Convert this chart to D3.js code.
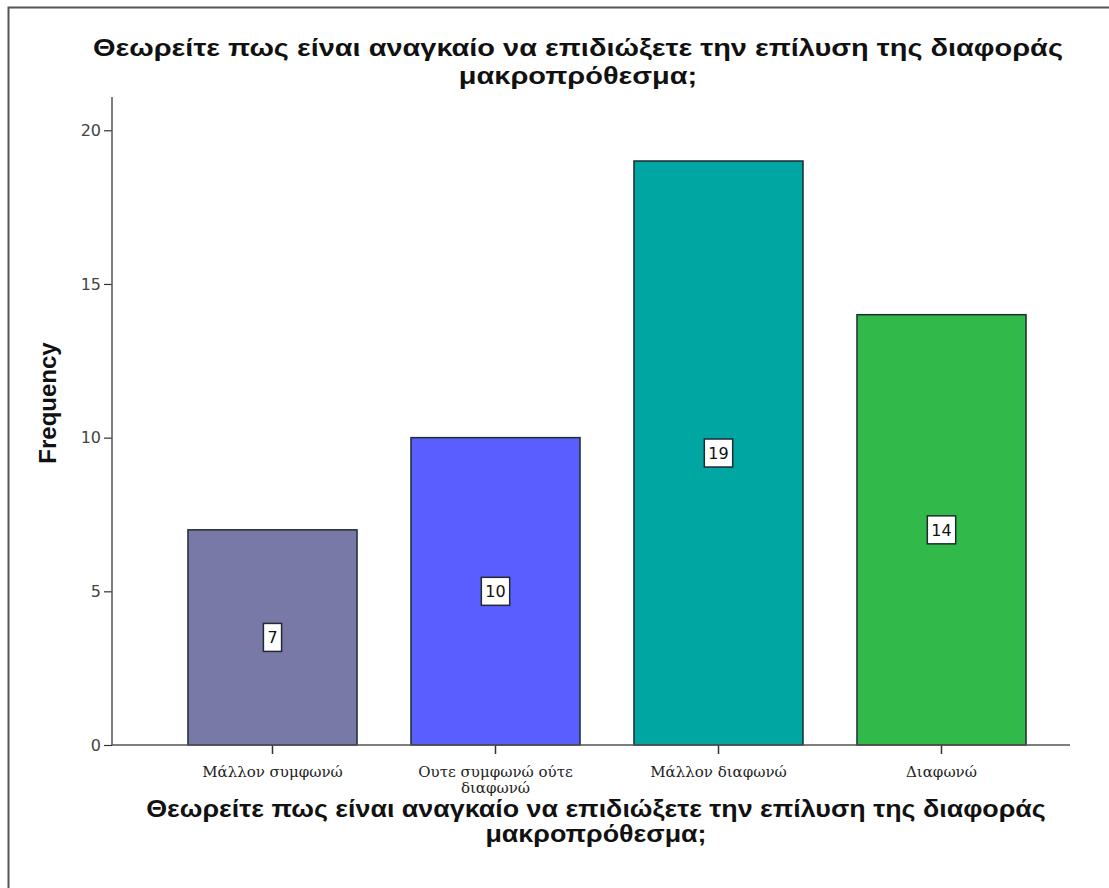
<!DOCTYPE html>
<html>
<head>
<meta charset="utf-8">
<script src="https://cdn.jsdelivr.net/npm/d3@7"></script>
<style>
  html, body { margin: 0; padding: 0; background: #fff; }
  svg { display: block; }
</style>
</head>
<body>
<svg id="chart" width="1109" height="888"></svg>
<script>
const categories = ["Μάλλον συμφωνώ", "Ουτε συμφωνώ ούτε διαφωνώ", "Μάλλον διαφωνώ", "Διαφωνώ"];
const categoryLines = [["Μάλλον συμφωνώ"], ["Ουτε συμφωνώ ούτε", "διαφωνώ"], ["Μάλλον διαφωνώ"], ["Διαφωνώ"]];
const frequencies = [7, 10, 19, 14];
const barColors = ["#7979A8", "#5A5EFE", "#00A6A2", "#31B949"];
const yTicks = [0, 5, 10, 15, 20];
const titleLines = ["Θεωρείτε πως είναι αναγκαίο να επιδιώξετε την επίλυση της διαφοράς", "μακροπρόθεσμα;"];
const xTitleLines = ["Θεωρείτε πως είναι αναγκαίο να επιδιώξετε την επίλυση της διαφοράς", "μακροπρόθεσμα;"];
const yTitle = "Frequency";

const svg = d3.select("#chart");

// outer frame (top & left visible)
svg.append("rect").attr("x", 8.5).attr("y", 7.5).attr("width", 1120).attr("height", 900)
  .attr("fill", "none").attr("stroke", "#555").attr("stroke-width", 2);

const y = d3.scaleLinear().domain([0, 21.05]).range([745, 98]);
const x = d3.scaleBand().domain(categories).range([161, 1053]).paddingInner(0.242).paddingOuter(0.121);

const axisX0 = 112, axisX1 = 1070;

// multi-line bold title, horizontally scaled so line 1 has the target width
function blockTitle(lines, cx, y0, lh, size, targetW) {
  const g = svg.append("g");
  const texts = lines.map((t, i) => g.append("text").attr("x", 0).attr("y", i * lh)
    .attr("text-anchor", "middle").attr("font-family", "Liberation Sans, Arial, sans-serif")
    .attr("font-weight", "bold").attr("font-size", size).attr("fill", "#111").text(t));
  const w = texts[0].node().getComputedTextLength();
  const sx = w > 0 ? targetW / w : 1;
  g.attr("transform", `translate(${cx},${y0}) scale(${sx},1)`);
}

blockTitle(titleLines, 578, 56, 28, 24, 970);

// bars
svg.selectAll("rect.bar").data(frequencies).join("rect").attr("class", "bar")
  .attr("x", (d, i) => x(categories[i]))
  .attr("y", d => y(d))
  .attr("width", x.bandwidth())
  .attr("height", d => y(0) - y(d))
  .attr("fill", (d, i) => barColors[i])
  .attr("stroke", "#1f2a33").attr("stroke-width", 1.5);

// y axis
const yAxis = svg.append("g").attr("transform", `translate(${axisX0},0)`)
  .call(d3.axisLeft(y).tickValues(yTicks).tickSize(8).tickPadding(3).tickFormat(d3.format("d")));
yAxis.select(".domain").remove();
yAxis.selectAll(".tick line").attr("stroke", "#333").attr("stroke-width", 1.2);
yAxis.selectAll(".tick text").attr("font-family", "DejaVu Sans, sans-serif").attr("font-size", 16).attr("fill", "#444");
svg.append("line").attr("x1", axisX0).attr("x2", axisX0).attr("y1", 97).attr("y2", y(0))
  .attr("stroke", "#555").attr("stroke-width", 1.5);

// x axis
const xAxis = svg.append("g").attr("transform", `translate(0,${y(0)})`)
  .call(d3.axisBottom(x).tickSize(9).tickFormat(""));
xAxis.select(".domain").remove();
xAxis.selectAll(".tick line").attr("stroke", "#333").attr("stroke-width", 1.5);
svg.append("line").attr("x1", axisX0).attr("x2", axisX1).attr("y1", y(0)).attr("y2", y(0))
  .attr("stroke", "#555").attr("stroke-width", 1.5);

// x tick labels
categories.forEach((c, i) => {
  categoryLines[i].forEach((l, j) => {
    svg.append("text").attr("x", x(c) + x.bandwidth() / 2).attr("y", 777 + j * 16)
      .attr("text-anchor", "middle").attr("font-family", "DejaVu Serif, serif")
      .attr("font-size", 15).attr("fill", "#222").text(l);
  });
});

// value labels
frequencies.forEach((d, i) => {
  const cx = x(categories[i]) + x.bandwidth() / 2;
  const cy = y(d / 2);
  const g = svg.append("g");
  const txt = g.append("text").attr("x", cx).attr("y", cy + 6).attr("text-anchor", "middle")
    .attr("font-family", "DejaVu Sans, sans-serif").attr("font-size", 16).attr("fill", "#111").text(d);
  const w = txt.node().getComputedTextLength() + 8;
  g.insert("rect", "text").attr("x", cx - w / 2).attr("y", cy - 14).attr("width", w).attr("height", 28)
    .attr("fill", "#fff").attr("stroke", "#1f2a33").attr("stroke-width", 1.5);
});

// y title
svg.append("text").attr("transform", "translate(56,403) rotate(-90)")
  .attr("text-anchor", "middle").attr("font-family", "Liberation Sans, Arial, sans-serif")
  .attr("font-weight", "bold").attr("font-size", 24).attr("fill", "#111").text(yTitle);

// x title
blockTitle(xTitleLines, 596, 817, 25, 23, 900);
</script>
</body>
</html>
